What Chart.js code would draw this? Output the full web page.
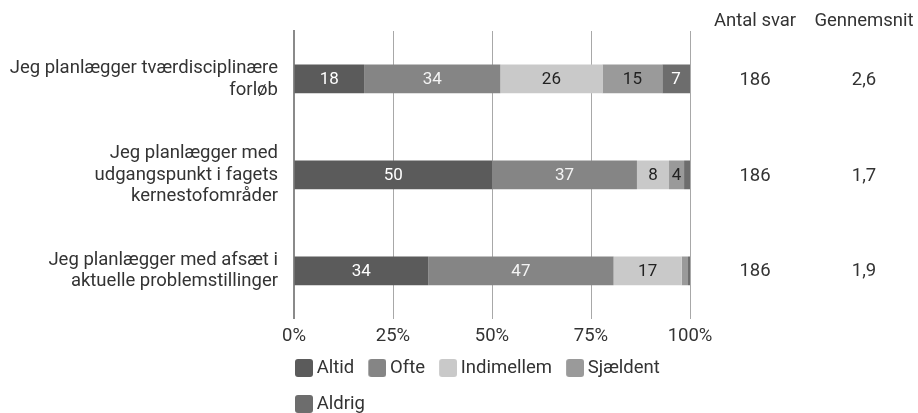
<!DOCTYPE html>
<html>
<head>
<meta charset="utf-8">
<script src="https://cdn.jsdelivr.net/npm/chart.js@4/dist/chart.umd.min.js"></script>
<style>
html,body{margin:0;padding:0;background:#fff;}
#wrap{width:918px;height:413px;position:relative;}
</style>
</head>
<body>
<div id="wrap"><canvas id="c" width="918" height="413"></canvas></div>
<script>
const categories = [
  ["Jeg planlægger tværdisciplinære", "forløb"],
  ["Jeg planlægger med", "udgangspunkt i fagets", "kernestofområder"],
  ["Jeg planlægger med afsæt i", "aktuelle problemstillinger"]
];
const altid      = [17.7, 50.0, 33.9];
const ofte       = [34.4, 36.6, 46.8];
const indimellem = [25.8, 8.1, 17.2];
const sjaeldent  = [15.1, 3.8, 1.6];
const aldrig     = [7.0, 1.6, 0.5];
const antalSvar  = [186, 186, 186];
const gennemsnit = ["2,6", "1,7", "1,9"];
const xTicks = ["0%", "25%", "50%", "75%", "100%"];
const extraHeaders = ["Antal svar", "Gennemsnit"];

const FONT = "Roboto";
const TXT = "#333";
const FS = 18.5;
const LEG_PAD = 17.5;

const seriesDefs = [
  {label: "Altid", data: altid, color: "#5b5b5b", text: "#ffffff"},
  {label: "Ofte", data: ofte, color: "#858585", text: "#f4f4f4"},
  {label: "Indimellem", data: indimellem, color: "#c9c9c9", text: "#222222"},
  {label: "Sjældent", data: sjaeldent, color: "#9a9a9a", text: "#222222"},
  {label: "Aldrig", data: aldrig, color: "#6d6d6d", text: "#ffffff"}
];

function makeBox(color) {
  const c = document.createElement("canvas");
  c.width = 20; c.height = 18;
  const g = c.getContext("2d");
  g.fillStyle = color;
  g.beginPath();
  if (g.roundRect) g.roundRect(2, 0, 18, 18, 3); else g.rect(2, 0, 18, 18);
  g.fill();
  return c;
}
const boxImgs = seriesDefs.map(s => makeBox(s.color));

const barLabels = {
  id: "barLabels",
  afterDatasetsDraw(chart) {
    const ctx = chart.ctx;
    ctx.save();
    ctx.font = "17px " + FONT;
    ctx.textAlign = "center";
    ctx.textBaseline = "middle";
    chart.data.datasets.forEach((ds, di) => {
      const meta = chart.getDatasetMeta(di);
      meta.data.forEach((bar, i) => {
        const v = ds.data[i];
        if (v < 3) return;
        const cx = (bar.x + bar.base) / 2;
        ctx.fillStyle = seriesDefs[di].text;
        ctx.fillText(String(Math.round(v)), cx, bar.y + 1);
      });
    });
    ctx.restore();
  }
};

const sideColumns = {
  id: "sideColumns",
  afterDraw(chart) {
    const ctx = chart.ctx;
    const ca = chart.chartArea;
    const y = chart.scales.y;
    const cols = [ca.right + 65, ca.right + 174];
    ctx.save();
    ctx.font = FS + "px " + FONT;
    ctx.fillStyle = TXT;
    ctx.textAlign = "center";
    ctx.textBaseline = "middle";
    extraHeaders.forEach((h, k) => ctx.fillText(h, cols[k], 21));
    categories.forEach((c, i) => {
      const py = y.getPixelForValue(i);
      ctx.fillText(String(antalSvar[i]), cols[0], py + 1);
      ctx.fillText(gennemsnit[i], cols[1], py + 1);
    });
    ctx.restore();
  }
};

const legendShift = {
  id: "legendShift",
  afterLayout(chart) {
    const L = chart.legend;
    if (!L) return;
    const wantRow1 = 368;
    const dy = wantRow1 - (L.top + LEG_PAD + FS / 2);
    L.top += dy; L.bottom += dy;
    const dx = 298.5 - (L.left + LEG_PAD);
    L.left += dx;
  }
};

new Chart(document.getElementById("c"), {
  type: "bar",
  data: {
    labels: categories,
    datasets: seriesDefs.map(s => ({
      label: s.label,
      data: s.data,
      backgroundColor: s.color,
      borderWidth: 0,
      barPercentage: 0.6,
      categoryPercentage: 0.5
    }))
  },
  options: {
    indexAxis: "y",
    responsive: false,
    animation: false,
    layout: {padding: {top: 31, right: 228, left: 0, bottom: -22}},
    scales: {
      x: {
        stacked: true,
        min: 0, max: 100,
        ticks: {
          stepSize: 25,
          color: TXT,
          font: {family: FONT, size: FS, lineHeight: 1.2},
          padding: 6,
          callback: (v, i) => xTicks[i]
        },
        grid: {color: "#a8a8a8", lineWidth: 1, drawTicks: true, tickLength: 0},
        border: {display: false}
      },
      y: {
        stacked: true,
        ticks: {
          color: TXT,
          font: {family: FONT, size: FS, lineHeight: 1.18},
          padding: 3
        },
        grid: {display: false, drawTicks: true, tickLength: 13},
        border: {display: true, color: "#8a8a8a", width: 2},
        afterFit(scale) { scale.width = 294; }
      }
    },
    plugins: {
      legend: {
        position: "bottom",
        align: "start",
        fullSize: false,
        labels: {
          color: TXT,
          font: {family: FONT, size: FS},
          usePointStyle: true,
          pointStyleWidth: 9,
          padding: LEG_PAD,
          generateLabels(chart) {
            const items = Chart.defaults.plugins.legend.labels.generateLabels(chart);
            items.forEach((it, i) => { it.pointStyle = boxImgs[i]; });
            return items;
          }
        }
      },
      tooltip: {enabled: false}
    }
  },
  plugins: [barLabels, sideColumns, legendShift]
});
</script>
</body>
</html>
